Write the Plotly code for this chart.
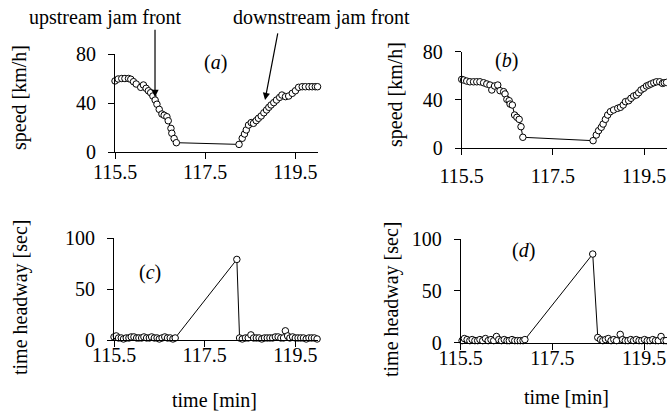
import plotly.graph_objects as go

# ---------------- data ----------------
t_a = [115.50,115.57,115.65,115.72,115.80,115.85,115.91,115.97,116.07,116.13,116.19,116.24,116.29,116.34,
       116.39,116.43,116.48,116.54,116.59,116.65,116.68,116.74,116.76,116.81,116.86,
       118.25,118.32,118.37,118.41,118.46,118.52,118.57,118.63,118.68,118.74,118.80,118.86,118.91,118.96,
       119.02,119.08,119.15,119.20,119.28,119.35,119.43,119.50,119.57,119.65,119.72,119.80,119.87,119.94,119.99]
v_a = [58,59.6,60,60,60,59.4,57.4,55.5,52.8,54.7,52,50,48.4,45.7,42.4,39,34.8,31,30,28.8,25.5,19.3,15.3,11,7.6,
       6.2,11.2,14.7,18,22,24,23.4,25.6,27.5,29.4,32,34.3,36.5,38.4,40.3,42.4,44.6,46.5,45.2,45.7,47.9,50,52.8,
       53.3,53.3,53.3,53.3,53.3,53.3]

t_b = [115.50,115.54,115.61,115.68,115.76,115.83,115.90,115.98,116.05,116.12,116.16,116.22,116.29,116.34,
       116.42,116.45,116.49,116.54,116.56,116.61,116.66,116.71,116.76,116.80,116.84,
       118.38,118.45,118.50,118.56,118.60,118.65,118.70,118.76,118.83,118.92,118.98,119.04,119.09,119.16,
       119.21,119.27,119.33,119.38,119.43,119.49,119.55,119.60,119.65,119.71,119.77,119.84,119.90,119.94,119.99]
v_b = [57,56.5,55.6,55,55,55,55,54.2,53.2,52.3,48.2,51.5,52.3,47.6,46.8,44.9,40.4,39.3,36.5,35.7,27.4,25.5,
       23.8,17.7,8.9,
       6.1,10.8,14.4,17.2,19.9,23.8,27.4,30.2,31.6,33,33.8,35.7,38.5,39.3,41.3,43.2,44,45.9,48.2,49.6,51.5,
       52.3,53.2,54.2,55,55,53.7,54.2,54.5]

t_c = [115.50,115.55,115.60,115.66,115.71,115.77,115.83,115.88,115.94,116.00,116.05,116.11,116.16,116.22,
       116.28,116.33,116.39,116.45,116.50,116.56,116.62,116.68,116.74,116.80,116.85,
       118.21,
       118.27,118.33,118.40,118.46,118.52,118.58,118.64,118.70,118.76,118.82,118.88,118.94,119.00,119.06,
       119.12,119.18,119.24,119.28,119.33,119.38,119.44,119.50,119.56,119.62,119.68,119.74,119.80,119.86,
       119.92,119.98]
h_c = [3,4,2,2,1,2,2,3,3,2,2,2,3,2,2,3,2,2,1,2,3,2,2,1,2,
       79,
       2,1,2,2,5,2,2,2,1,2,2,2,2,3,3,2,2,9,4,2,3,2,2,2,2,1,2,2,2,1]

t_d = [115.48,115.53,115.58,115.64,115.70,115.75,115.81,115.87,115.92,115.98,116.04,116.10,116.16,116.22,
       116.28,116.33,116.39,116.45,116.51,116.56,116.62,116.68,116.74,116.80,116.86,116.90,
       118.38,
       118.49,118.55,118.60,118.66,118.72,118.78,118.84,118.90,118.98,119.03,119.09,119.15,119.21,119.27,
       119.33,119.39,119.45,119.51,119.57,119.63,119.69,119.75,119.81,119.87,119.93,119.98]
h_d = [1,2,4,3,2,3,2,2,3,2,4,2,3,2,6,3,2,3,2,2,3,2,2,2,2,3,
       85.5,
       5,3,2,3,4,2,3,2,8,3,2,2,3,2,3,2,2,3,2,2,3,2,2,6,2,2]

x_ticks = [115.5, 117.5, 119.5]
speed_ticks = [0, 40, 80]
head_ticks = [0, 50, 100]

# ---------------- figure ----------------
W, H = 667, 411
FONT = "Liberation Serif"
FS = 20

def px(x):
    return x / W

def py(y):
    return 1 - y / H

fig = go.Figure()
marker = dict(symbol="circle", size=6.5, color="white", line=dict(color="black", width=1))
line = dict(color="black", width=1)

for i, (tx, vy) in enumerate([(t_a, v_a), (t_b, v_b), (t_c, h_c), (t_d, h_d)]):
    sfx = "" if i == 0 else str(i + 1)
    fig.add_trace(go.Scatter(x=tx, y=vy, mode="lines+markers", marker=marker, line=line,
                             xaxis="x" + sfx, yaxis="y" + sfx, cliponaxis=False, showlegend=False))

base_axis = dict(showline=True, linecolor="black", linewidth=1, ticks="outside", ticklen=6,
                 tickcolor="black", tickwidth=1, showgrid=False, zeroline=False, automargin=False,
                 tickfont=dict(family=FONT, size=FS, color="black"))

domains = {
    1: dict(x=[px(115), px(318)], y=[py(152), py(54)]),
    2: dict(x=[px(461.7), 1.0], y=[py(148), py(51.7)]),
    3: dict(x=[px(114), px(318)], y=[py(340), py(238)]),
    4: dict(x=[px(460.7), 1.0], y=[py(342.7), py(239)]),
}
xstand = {1: -4, 2: 4, 3: -9, 4: -9}

layout = dict(width=W, height=H, margin=dict(l=0, r=0, t=0, b=0, autoexpand=False),
              paper_bgcolor="white", plot_bgcolor="white", showlegend=False)
for k in range(1, 5):
    sfx = "" if k == 1 else str(k)
    xa = dict(base_axis, domain=domains[k]["x"], range=[115.5, 120.0], tickvals=x_ticks,
              ticktext=[str(v) for v in x_ticks], anchor="y" + sfx, ticklabelstandoff=xstand[k])
    ya = dict(base_axis, domain=domains[k]["y"], anchor="x" + sfx, ticklabelstandoff=8)
    if k <= 2:
        ya.update(range=[0, 80], tickvals=speed_ticks)
    else:
        ya.update(range=[0, 100], tickvals=head_ticks)
    layout["xaxis" + sfx] = xa
    layout["yaxis" + sfx] = ya
fig.update_layout(**layout)

def txt(text, x, y, angle=0):
    fig.add_annotation(text=text, x=px(x), y=py(y), xref="paper", yref="paper",
                       showarrow=False, textangle=angle, xanchor="center", yanchor="middle",
                       font=dict(family=FONT, size=FS, color="black"))

txt("upstream jam front", 105, 18)
txt("downstream jam front", 321, 18)
txt("(<i>a</i>)", 215, 62)
txt("(<i>b</i>)", 507, 60)
txt("(<i>c</i>)", 150, 272)
txt("(<i>d</i>)", 523, 250)
txt("speed [km/h]", 20, 98, -90)
txt("speed [km/h]", 395, 95, -90)
txt("time headway [sec]", 20, 298, -90)
txt("time headway [sec]", 391, 299, -90)
txt("time [min]", 214, 400)
txt("time [min]", 566, 397)

# arrows (in data coordinates of panel a)
fig.add_annotation(x=116.387, y=44.9, ax=116.387, ay=101, xref="x", yref="y", axref="x", ayref="y",
                   text="", showarrow=True, arrowhead=2, arrowsize=1.2, arrowwidth=1.2, arrowcolor="black")
fig.add_annotation(x=118.826, y=42.4, ax=119.114, ay=98, xref="x", yref="y", axref="x", ayref="y",
                   text="", showarrow=True, arrowhead=2, arrowsize=1.2, arrowwidth=1.2, arrowcolor="black")

fig.write_html("out.html")
